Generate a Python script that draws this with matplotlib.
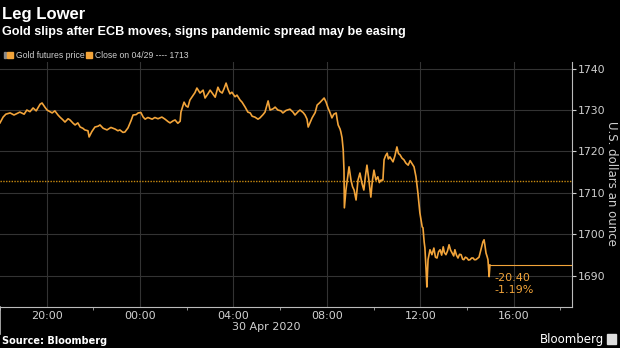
import numpy as np
import pandas as pd
import matplotlib
matplotlib.use("Agg")
import matplotlib.pyplot as plt
import matplotlib.dates as mdates
from matplotlib.patches import Rectangle

# minutes after 29 Apr 2020 18:00 and gold futures price (USD/oz)
minutes = [0, 8, 15, 26, 36, 51, 62, 69, 77, 85, 93, 103, 108, 116, 121, 134, 141, 149, 154, 162,
           167, 175, 180, 188, 193, 200, 206, 213, 218, 226, 229, 236, 244, 252, 257, 265, 275, 285,
           296, 303, 308, 316, 321, 329, 337, 342, 350, 355, 362, 368, 373, 380, 391, 398, 406, 416,
           424, 432, 437, 445, 450, 457, 463, 465, 473, 478, 483, 488, 493, 501, 506, 514, 522, 527,
           535, 540, 547, 553, 560, 565, 571, 576, 581, 586, 591, 596, 604, 609, 617, 622, 630, 637,
           643, 648, 655, 663, 668, 676, 681, 689, 694, 702, 707, 714, 722, 727, 735, 745, 753, 758,
           766, 771, 779, 784, 789, 792, 797, 802, 810, 815, 822, 828, 833, 838, 843, 848, 853, 858,
           864, 866, 869, 874, 876, 879, 882, 884, 885, 889, 893, 897, 902, 906, 910, 915, 920, 925,
           930, 935, 939, 943, 948, 953, 957, 961, 966, 971, 975, 979, 984, 987, 991, 995, 998, 1002,
           1010, 1015, 1020, 1024, 1028, 1033, 1038, 1043, 1049, 1054, 1056, 1061, 1064, 1069, 1074,
           1079, 1085, 1087, 1090, 1092, 1095, 1097, 1100, 1105, 1110, 1115, 1119, 1123, 1127, 1131,
           1135, 1139, 1142, 1146, 1150, 1154, 1158, 1162, 1166, 1169, 1173, 1177, 1181, 1185, 1189,
           1192, 1196, 1200, 1204, 1208, 1212, 1216, 1219, 1223, 1227, 1231, 1236, 1241, 1244, 1246,
           1249, 1252, 1254, 1257, 1259]
prices = [1726.9, 1728.3, 1729.0, 1729.3, 1728.8, 1729.5, 1729.0, 1730.0, 1729.6, 1730.5, 1729.8,
          1731.4, 1731.7, 1730.6, 1730.0, 1729.3, 1729.8, 1728.8, 1728.3, 1727.6, 1727.1, 1727.9,
          1727.6, 1726.8, 1726.4, 1726.9, 1725.9, 1725.6, 1725.2, 1725.0, 1723.5, 1724.8, 1725.9,
          1726.1, 1726.4, 1725.6, 1725.2, 1725.8, 1725.4, 1725.0, 1725.2, 1724.6, 1724.7, 1725.7,
          1727.5, 1728.8, 1728.9, 1729.3, 1729.4, 1728.3, 1727.8, 1728.2, 1727.8, 1728.2, 1727.9,
          1728.3, 1727.8, 1727.2, 1726.9, 1727.4, 1727.6, 1726.8, 1727.3, 1729.5, 1731.9, 1731.0,
          1730.7, 1732.4, 1733.1, 1734.2, 1735.3, 1734.1, 1734.8, 1732.9, 1734.0, 1734.8, 1733.9,
          1733.1, 1735.5, 1734.5, 1734.1, 1735.2, 1736.5, 1735.0, 1733.9, 1734.3, 1733.2, 1733.6,
          1732.4, 1731.9, 1730.7, 1729.5, 1729.3, 1728.5, 1728.3, 1727.8, 1728.1, 1728.9, 1729.5,
          1732.2, 1730.0, 1730.3, 1730.7, 1730.0, 1729.8, 1729.3, 1729.9, 1730.2, 1729.5, 1728.8,
          1729.6, 1730.0, 1729.4, 1728.8, 1727.8, 1725.9, 1727.0, 1728.1, 1729.4, 1731.2, 1731.8,
          1732.4, 1732.9, 1731.9, 1730.5, 1729.4, 1728.1, 1729.0, 1729.3, 1728.0, 1726.4, 1725.4,
          1724.7, 1723.3, 1720.4, 1715.5, 1706.4, 1710.7, 1713.5, 1716.3, 1713.1, 1711.5, 1710.7,
          1708.3, 1713.1, 1714.8, 1712.4, 1710.7, 1714.0, 1716.7, 1713.1, 1709.0, 1713.0, 1715.5,
          1713.1, 1713.9, 1712.5, 1713.1, 1713.1, 1718.0, 1719.0, 1719.6, 1718.2, 1718.7, 1717.5,
          1719.0, 1721.1, 1719.5, 1719.2, 1718.4, 1718.0, 1717.2, 1716.7, 1717.8, 1717.5, 1716.8,
          1716.3, 1713.9, 1710.0, 1705.2, 1701.8, 1701.6, 1698.2, 1696.7, 1691.4, 1687.3, 1693.9,
          1696.3, 1695.1, 1696.7, 1694.5, 1694.3, 1695.8, 1696.3, 1695.0, 1697.0, 1695.6, 1695.1,
          1696.0, 1697.5, 1696.2, 1695.5, 1694.8, 1696.3, 1695.0, 1694.3, 1695.2, 1695.1, 1694.0,
          1693.9, 1694.5, 1694.3, 1693.8, 1693.9, 1694.3, 1694.3, 1693.9, 1693.9, 1694.2, 1694.5,
          1696.3, 1698.2, 1698.7, 1697.5, 1695.5, 1694.6, 1693.9, 1689.8, 1692.6]
prev_close = 1713
change = "-20.40"
change_pct = "-1.19%"

start = pd.Timestamp("2020-04-29 18:00")
end = pd.Timestamp("2020-04-30 18:30")
times = start + pd.to_timedelta(minutes, unit="m")

gold = "#f2a43a"
grid = "#333333"
txt = "#d0d0d0"

fig = plt.figure(figsize=(6.2, 3.48), dpi=100, facecolor="black")
ax = fig.add_axes([0.0, 0.118, 0.9226, 0.704], facecolor="black")

ax.plot(times, prices, color=gold, lw=1.2, zorder=3)
ax.axhline(prev_close, color="#c88a10", lw=1.0, ls=(0, (1, 1)), zorder=2)
# last price line to the axis
ax.plot([times[-1], end], [prices[-1], prices[-1]], color=gold, lw=0.8, zorder=3)
ax.annotate(change, (times[-1], prices[-1]), xytext=(3, -9), textcoords="offset points",
            color=gold, fontsize=8, va="center")
ax.annotate(change_pct, (times[-1], prices[-1]), xytext=(3, -18), textcoords="offset points",
            color=gold, fontsize=8, va="center")

ax.set_xlim(start, end)
ax.set_ylim(1682.5, 1741.6)
ax.set_yticks([1690, 1700, 1710, 1720, 1730, 1740])
ax.yaxis.tick_right()
ax.xaxis.set_major_locator(mdates.HourLocator(byhour=[0, 4, 8, 12, 16, 20]))
ax.xaxis.set_minor_locator(mdates.HourLocator(byhour=[2, 6, 10, 14, 18, 22]))
ax.xaxis.set_major_formatter(mdates.DateFormatter("%H:%M"))
ax.grid(True, color=grid, lw=0.8)
ax.tick_params(axis="y", colors=txt, labelsize=7.8, length=3, width=0.8, pad=1.5)
ax.tick_params(axis="x", colors=txt, labelsize=8, length=0, pad=3)
ax.tick_params(axis="x", which="minor", length=2, color="#aaaaaa")
for s in ["top", "left"]:
    ax.spines[s].set_visible(False)
ax.spines["bottom"].set_color("#bbbbbb")
ax.spines["right"].set_color("#bbbbbb")
ax.axvline(start, ymin=-0.11, ymax=0, color="#bbbbbb", lw=1.2, clip_on=False)

fig.text(611 / 620, 1 - 183 / 348, "U.S. dollars an ounce", color=txt, fontsize=8.5,
         rotation=270, ha="center", va="center")
fig.text(300 / 620, 1 - 327 / 348, "30 Apr 2020", color=txt, fontsize=8, ha="right", va="center")

fig.text(0.004, 1 - 14 / 348, "Leg Lower", color="white", fontsize=12, weight="bold",
         family="Liberation Sans", va="center")
fig.text(0.004, 1 - 32 / 348, "Gold slips after ECB moves, signs pandemic spread may be easing",
         color="white", fontsize=9.1, weight="bold", family="Liberation Sans", va="center")

# legend
fig.patches.append(Rectangle((4 / 620, 1 - 58 / 348), 1.5 / 620, 6 / 348, color="#888888",
                             transform=fig.transFigure))
fig.patches.append(Rectangle((7 / 620, 1 - 58 / 348), 6 / 620, 6 / 348, color=gold,
                             transform=fig.transFigure))
fig.text(16 / 620, 1 - 55 / 348, "Gold futures price", color=txt, fontsize=6.2,
         family="Liberation Sans", va="center")
fig.patches.append(Rectangle((86 / 620, 1 - 58 / 348), 6 / 620, 6 / 348, color=gold,
                             transform=fig.transFigure))
fig.text(95 / 620, 1 - 55 / 348, "Close on 04/29 ---- 1713", color=txt, fontsize=6.2,
         family="Liberation Sans", va="center")

fig.text(0.004, 1 - 341 / 348, "Source: Bloomberg", color="white", fontsize=7, weight="bold",
         va="center")
fig.text(604 / 620, 1 - 339 / 348, "Bloomberg", color="white", fontsize=8.5, ha="right",
         va="center")
fig.patches.append(Rectangle((607 / 620, 1 - 344 / 348), 9 / 620, 10 / 348, color="#dddddd",
                             transform=fig.transFigure))

fig.savefig("out.png", dpi=100, facecolor="black")
